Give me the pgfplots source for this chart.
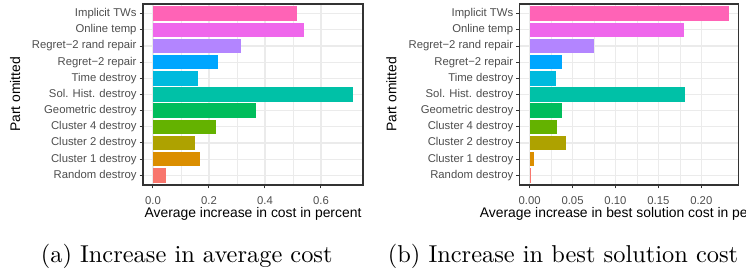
\documentclass[border=0pt]{standalone}
\usepackage{fontspec}
\usepackage{pgfplots}
\pgfplotsset{compat=1.18}
\newfontfamily\arial{Liberation Sans}
\definecolor{c1}{HTML}{F8766D}
\definecolor{c2}{HTML}{DB8E00}
\definecolor{c3}{HTML}{AEA200}
\definecolor{c4}{HTML}{64B200}
\definecolor{c5}{HTML}{00BD5C}
\definecolor{c6}{HTML}{00C1A7}
\definecolor{c7}{HTML}{00BADE}
\definecolor{c8}{HTML}{00A6FF}
\definecolor{c9}{HTML}{B385FF}
\definecolor{c10}{HTML}{EF67EB}
\definecolor{c11}{HTML}{FF63B6}
\definecolor{gridc}{HTML}{EBEBEB}
\definecolor{g20}{HTML}{333333}
\definecolor{g30}{HTML}{4D4D4D}
\pgfplotsset{
  myax/.style={
    scale only axis, anchor=south west,
    xbar, bar shift=0pt, bar width=0.9,
    ymin=0.4, ymax=11.6, ytick={1,...,11},
    yticklabels={Random destroy, Cluster 1 destroy, Cluster 2 destroy, Cluster 4 destroy, Geometric destroy, Sol. Hist. destroy, Time destroy, Regret−2 repair, Regret−2 rand repair, Online temp, Implicit TWs},
    tick align=outside, major tick length=3.4pt, minor tick length=0pt,
    xtick pos=left, ytick pos=left,
    every tick/.style={draw=g20, line width=1pt},
    axis line style={draw=g20, line width=1.1pt},
    xmajorgrids, xminorgrids, ymajorgrids,
    major grid style={draw=gridc, line width=1.2pt},
    minor grid style={draw=gridc, line width=0.6pt},
    minor x tick num=1,
    scaled x ticks=false,
    /pgf/number format/assume math mode=true,
    tick label style={font=\arial\fontsize{11.3}{13}\selectfont, text=g30},
    y tick label style={anchor=east, inner sep=0pt, xshift=-2.9pt},
    x tick label style={anchor=base, inner sep=0pt, yshift=-16pt},
    label style={font=\arial\fontsize{13.9}{16}\selectfont, text=black},
    x label style={at={(axis description cs:0.5,0)}, anchor=base, inner sep=0pt, yshift=-32pt},
    ylabel={Part omitted},
  }
}
\begin{document}
\begin{tikzpicture}
\useasboundingbox (0,0) rectangle (746pt,-271pt);
\clip (0,0) rectangle (746pt,-271pt);
% (a)
\begin{axis}[myax, at={(143pt,-185pt)}, width=220pt, height=181pt,
  xmin=-0.0357, xmax=0.75, xtick={0,0.2,0.4,0.6},
  x tick label style={/pgf/number format/.cd, fixed, fixed zerofill, precision=1},
  y label style={at={(axis description cs:-0.559,0.5)}, anchor=base, inner sep=0pt},
  xlabel={Average increase in cost in percent}]
\addplot[fill=c1, draw=none] coordinates {(0.0475,1)};
\addplot[fill=c2, draw=none] coordinates {(0.169,2)};
\addplot[fill=c3, draw=none] coordinates {(0.151,3)};
\addplot[fill=c4, draw=none] coordinates {(0.226,4)};
\addplot[fill=c5, draw=none] coordinates {(0.369,5)};
\addplot[fill=c6, draw=none] coordinates {(0.714,6)};
\addplot[fill=c7, draw=none] coordinates {(0.162,7)};
\addplot[fill=c8, draw=none] coordinates {(0.233,8)};
\addplot[fill=c9, draw=none] coordinates {(0.314,9)};
\addplot[fill=c10, draw=none] coordinates {(0.539,10)};
\addplot[fill=c11, draw=none] coordinates {(0.514,11)};
\end{axis}
% (b)
\begin{axis}[myax, at={(519.7pt,-185pt)}, width=219pt, height=181pt,
  xmin=-0.0116, xmax=0.2436, xtick={0,0.05,0.1,0.15,0.2},
  x tick label style={/pgf/number format/.cd, fixed, fixed zerofill, precision=2},
  y label style={at={(axis description cs:-0.5626,0.5)}, anchor=base, inner sep=0pt},
  xlabel={Average increase in best solution cost in percent}]
\addplot[fill=c1, draw=none] coordinates {(0.001,1)};
\addplot[fill=c2, draw=none] coordinates {(0.0046,2)};
\addplot[fill=c3, draw=none] coordinates {(0.0429,3)};
\addplot[fill=c4, draw=none] coordinates {(0.0313,4)};
\addplot[fill=c5, draw=none] coordinates {(0.0371,5)};
\addplot[fill=c6, draw=none] coordinates {(0.1807,6)};
\addplot[fill=c7, draw=none] coordinates {(0.0302,7)};
\addplot[fill=c8, draw=none] coordinates {(0.0371,8)};
\addplot[fill=c9, draw=none] coordinates {(0.0751,9)};
\addplot[fill=c10, draw=none] coordinates {(0.180,10)};
\addplot[fill=c11, draw=none] coordinates {(0.232,11)};
\end{axis}
\node[scale=2.44, anchor=base, inner sep=0pt] at (186.7pt,-262pt) {\fontsize{10}{12}\selectfont (a) Increase in average cost};
\node[scale=2.44, anchor=base, inner sep=0pt] at (563pt,-262pt) {\fontsize{10}{12}\selectfont (b) Increase in best solution cost};
\end{tikzpicture}
\end{document}
